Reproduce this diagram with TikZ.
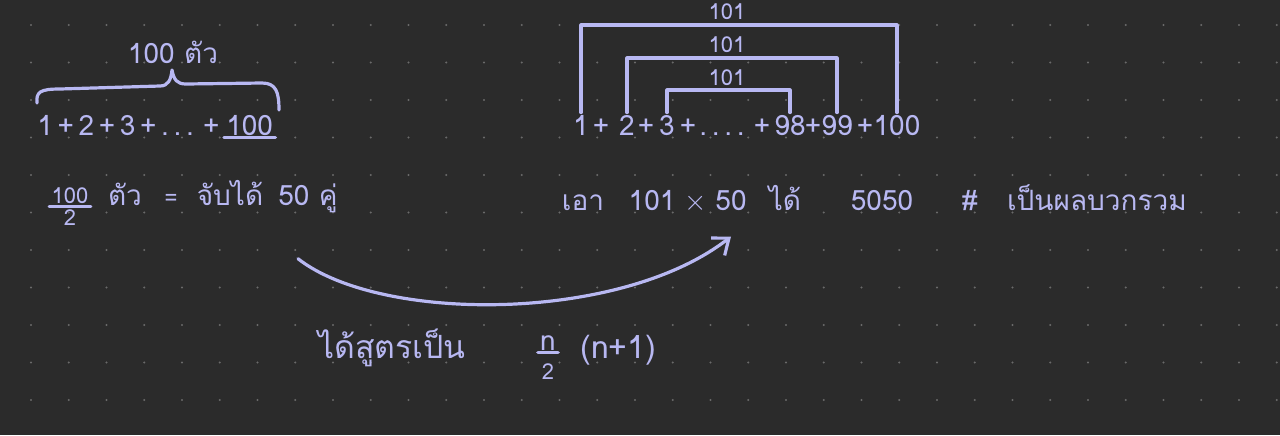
\documentclass[tikz,border=0pt]{standalone}
\usepackage{fontspec}
\newfontfamily\thaifont[Script=Thai]{Loma}
\usetikzlibrary{arrows.meta}
\definecolor{board}{HTML}{2B2B2B}
\definecolor{ink}{HTML}{B8B8F2}
\definecolor{griddot}{HTML}{6A6A6A}
\tikzset{
  txt/.style={text=ink, font=\thaifont\fontsize{14}{16}\selectfont, inner sep=1pt},
  small/.style={txt, font=\thaifont\fontsize{11}{13}\selectfont},
  big/.style={txt, font=\thaifont\fontsize{16}{18}\selectfont},
  pen/.style={draw=ink, line width=1.6pt, line cap=round, line join=round}
}
\begin{document}
\begin{tikzpicture}[x=0.5pt, y=0.5pt]
\fill[board] (0,0) rectangle (1280,-435);
\useasboundingbox (0,0) rectangle (1280,-435);
% dotted paper
\foreach \i in {0,...,33}
  \foreach \j in {0,...,10}
    \fill[griddot] (31+37.75*\i, -25-37.5*\j) circle (1.1);

% left sum with brace
\node[txt, anchor=base west] (lsum) at (35,-135) {1\,+\,2\,+\,3\,+\,.\,.\,.\,\,+};
\node[txt, anchor=base west] (l100) at ([xshift=1]lsum.base east) {100};
\draw[pen] (l100.south west) -- (l100.south east);
\node[txt] (cnt) at (173,-52) {100 ตัว};
\draw[pen] (37,-103) .. controls (36,-92) and (40,-89) .. (60,-89)
  -- (160,-86) .. controls (168,-86) and (171,-80) .. (172,-70)
  .. controls (174,-80) and (177,-84) .. (186,-84)
  -- (262,-83) .. controls (276,-83) and (279,-92) .. (279,-110);

% right sum with pair brackets
\node[txt, anchor=base] (r1) at (581,-135) {1};
\node[txt, anchor=base] (q1) at (601,-135) {+};
\node[txt, anchor=base] (r2) at (627,-135) {2};
\node[txt, anchor=base] (q2) at (646,-135) {+};
\node[txt, anchor=base] (r3) at (667,-135) {3};
\node[txt, anchor=base] (q3) at (688,-135) {+};
\node[txt, anchor=base] (rdots) at (722,-135) {.\,.\,.\,.};
\node[txt, anchor=base] (q4) at (762,-135) {+};
\node[txt, anchor=base] (r98) at (790,-135) {98};
\node[txt, anchor=base] (q5) at (813,-135) {+};
\node[txt, anchor=base] (r99) at (837,-135) {99};
\node[txt, anchor=base] (q6) at (865,-135) {+};
\node[txt, anchor=base] (r100) at (897,-135) {100};
\node[small] (lab1) at (727,-12) {101};
\node[small] (lab2) at (727,-45) {101};
\node[small] (lab3) at (727,-78) {101};
\draw[pen] (r1.north) -- (r1.north |- 0,-25) -| (r100.north);
\draw[pen] (r2.north) -- (r2.north |- 0,-58) -| (r99.north);
\draw[pen] (r3.north) -- (r3.north |- 0,-90) -| (r98.north);

% second line, left
\node[small] (fnum) at (70,-196) {100};
\draw[pen] (fnum.south west) -- (fnum.south east);
\node[small] (fden) at (70,-218) {2};
\node[txt, anchor=base] (tua) at (125,-205) {ตัว};
\node[small, anchor=base] (eq) at (171,-205) {=};
\node[txt, anchor=base] (jab) at (230,-205) {จับได้};
\node[txt, anchor=base] (pair) at (308,-205) {50 คู่};

% second line, right
\node[txt, anchor=base] (aw) at (583,-210) {เอา};
\node[txt, anchor=base] (mul) at (668,-210) {101 $\times$};
\node[txt, anchor=base] (fifty) at (731,-210) {50};
\node[txt, anchor=base] (dai) at (785,-210) {ได้};
\node[txt, anchor=base] (total) at (882,-210) {5050};
\node[txt, anchor=base] (hash) at (970,-210) {\#};
\node[txt, anchor=base] (sumword) at (1097,-210) {เป็นผลบวกรวม};

\draw[pen, -{Straight Barb[length=7pt,width=11pt]}] ([xshift=-5,yshift=-22]pair.south)
  .. controls (380,-323) and (620,-323) .. ([yshift=-12]fifty.south);

% formula
\node[big, anchor=base] (formula) at (392,-358) {ได้สูตรเป็น};
\node[txt] (nnum) at (548,-343) {n};
\draw[pen] (nnum.south west) -- (nnum.south east);
\node[small] (nden) at (548,-372) {2};
\node[big, anchor=base west] (paren) at (578,-358) {(n+1)};
\end{tikzpicture}
\end{document}
